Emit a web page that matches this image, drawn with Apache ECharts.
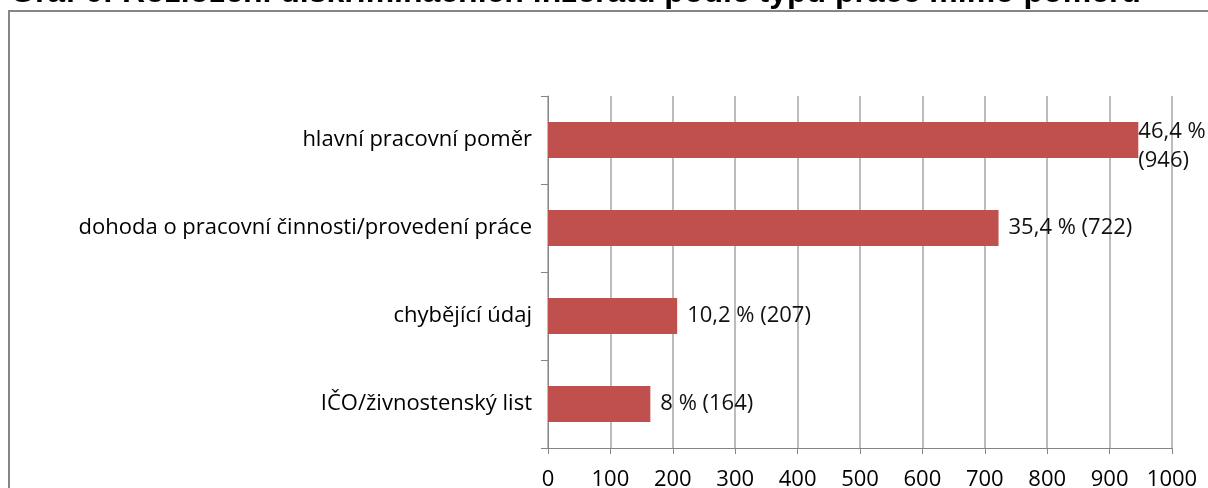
<!DOCTYPE html>
<html>
<head>
<meta charset="utf-8">
<script src="https://cdn.jsdelivr.net/npm/echarts@6/dist/echarts.min.js"></script>
<style>
html, body { margin: 0; padding: 0; background: #fff; }
#chart { width: 1208px; height: 488px; }
</style>
</head>
<body>
<div id="chart"></div>
<script>
var categories = ['hlavní pracovní poměr', 'dohoda o pracovní činnosti/provedení práce', 'chybějící údaj', 'IČO/živnostenský list'];
var counts = [946, 722, 207, 164];
var percents = ['46,4 %', '35,4 %', '10,2 %', '8 %'];
var ticks = [0, 100, 200, 300, 400, 500, 600, 700, 800, 900, 1000];

var chart = echarts.init(document.getElementById('chart'));

var barData = counts.map(function (v, i) {
    var item = { value: v };
    // the first label wraps in the original, sitting right on the bar end
    if (i === 0) item.label = { distance: 0, offset: [0, 6] };
    return item;
});

var option = {
    animation: false,
    textStyle: { fontFamily: 'Open Sans' },
    graphic: [
        {
            type: 'rect',
            shape: { x: 9, y: 11, width: 1220, height: 500 },
            style: { fill: 'none', stroke: '#868686', lineWidth: 2 }
        },
        {
            type: 'text',
            x: 10,
            y: 9,
            style: {
                text: 'Graf 6: Rozložení diskriminačních inzerátů podle typu práce mimo poměru',
                font: 'bold 32px "Liberation Sans"',
                fill: '#000',
                textVerticalAlign: 'bottom'
            }
        }
    ],
    grid: { left: 548, right: 36, top: 96, bottom: 40, containLabel: false, outerBoundsMode: 'none' },
    xAxis: {
        type: 'value',
        min: ticks[0],
        max: ticks[ticks.length - 1],
        interval: 100,
        axisLine: { show: true, lineStyle: { color: '#868686' } },
        axisTick: { show: true, length: 6, lineStyle: { color: '#868686' } },
        axisLabel: { color: '#000', fontSize: 22, margin: 21, formatter: function (v) { return String(v); } },
        splitLine: { show: true, lineStyle: { color: '#a6a6a6', width: 1.5 } }
    },
    yAxis: {
        type: 'category',
        inverse: true,
        data: categories,
        axisLine: { show: true, lineStyle: { color: '#868686' } },
        axisTick: { show: true, length: 7, lineStyle: { color: '#868686' } },
        axisLabel: { color: '#000', fontSize: 22, margin: 16 }
    },
    series: [
        {
            type: 'bar',
            data: barData,
            barWidth: '41%',
            itemStyle: { color: '#C0504D' },
            label: {
                show: true,
                position: 'right',
                distance: 10,
                color: '#111',
                fontSize: 22,
                lineHeight: 29,
                formatter: function (p) {
                    var sep = p.dataIndex === 0 ? '\n' : ' ';
                    return percents[p.dataIndex] + sep + '(' + counts[p.dataIndex] + ')';
                }
            }
        }
    ]
};

chart.setOption(option);
</script>
</body>
</html>
